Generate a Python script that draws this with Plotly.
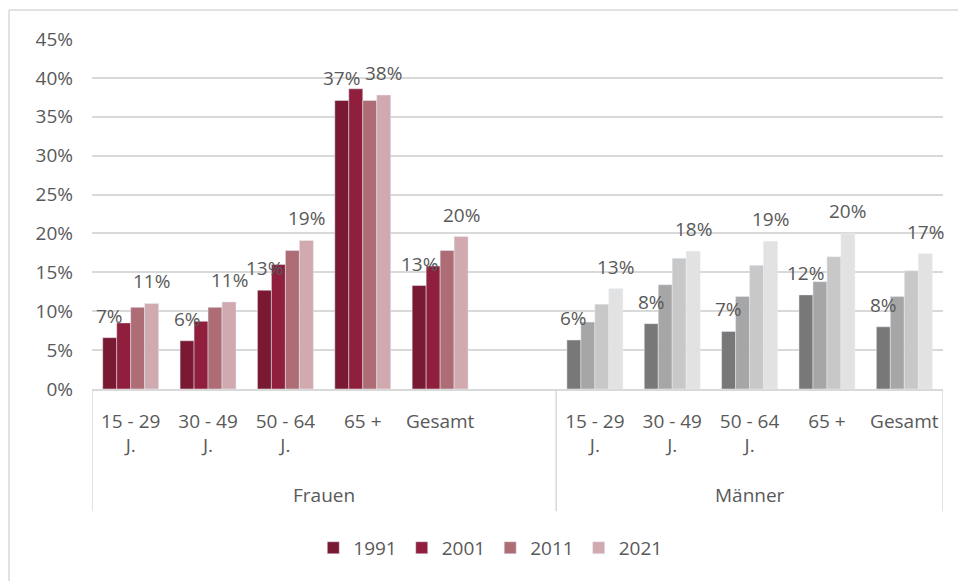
import plotly.graph_objects as go

years = ["1991", "2001", "2011", "2021"]
age_groups = ["15 - 29<br>J.", "30 - 49<br>J.", "50 - 64<br>J.", "65 +", "Gesamt"]
groups = ["Frauen", "Männer"]

frauen = {
    "1991": [0.066, 0.062, 0.127, 0.371, 0.133],
    "2001": [0.085, 0.087, 0.160, 0.386, 0.158],
    "2011": [0.105, 0.105, 0.178, 0.371, 0.178],
    "2021": [0.110, 0.112, 0.191, 0.378, 0.196],
}
maenner = {
    "1991": [0.063, 0.084, 0.074, 0.121, 0.080],
    "2001": [0.086, 0.134, 0.119, 0.138, 0.119],
    "2011": [0.109, 0.168, 0.159, 0.170, 0.152],
    "2021": [0.129, 0.177, 0.190, 0.200, 0.174],
}
labelled_years = ["1991", "2021"]

frauen_colors = {"1991": "#7a1a32", "2001": "#8f1f3c", "2011": "#ae6c74", "2021": "#d1aab0"}
maenner_colors = {"1991": "#787878", "2001": "#a6a6a6", "2011": "#c8c8c8", "2021": "#e2e2e2"}

# category keys: 5 Frauen, one blank spacer, 5 Männer
f_keys = ["F" + str(i) for i in range(len(age_groups))]
m_keys = ["M" + str(i) for i in range(len(age_groups))]
all_keys = f_keys + ["blank"] + m_keys
tick_text = age_groups + [""] + age_groups

FONT = "Open Sans"
TXT = "#595959"
GRID = "#d9d9d9"
bargap = 0.277

fig = go.Figure()
for y in years:
    fig.add_trace(go.Bar(x=f_keys, y=frauen[y], name=y, marker_color=frauen_colors[y],
                         offsetgroup=y, legendgroup=y, hoverinfo="y"))
for y in years:
    fig.add_trace(go.Bar(x=m_keys, y=maenner[y], name=y, marker_color=maenner_colors[y],
                         offsetgroup=y, legendgroup=y, showlegend=False, hoverinfo="y"))

annotations = []
gw = 1 - bargap
for k, y in enumerate(years):
    if y not in labelled_years:
        continue
    off = (k - 1.5) * gw / len(years)
    for series in (frauen, maenner):
        keys = f_keys if series is frauen else m_keys
        for key, v in zip(keys, series[y]):
            annotations.append(dict(
                x=all_keys.index(key) + off, y=v, xref="x", yref="y",
                text=f"{round(v * 100)}%", showarrow=False, yanchor="middle",
                yshift=22, font=dict(family=FONT, size=19, color=TXT)))

# group labels
annotations.append(dict(x=(0 + 5) / 2, y=-0.303, xref="x", yref="paper", text=groups[0],
                        showarrow=False, yanchor="middle",
                        font=dict(family=FONT, size=19, color=TXT)))
annotations.append(dict(x=(6 + 10) / 2, y=-0.303, xref="x", yref="paper", text=groups[1],
                        showarrow=False, yanchor="middle",
                        font=dict(family=FONT, size=19, color=TXT)))

shapes = []
for xb in (-0.5, 5.5, 10.5):
    shapes.append(dict(type="line", xref="x", yref="paper", x0=xb, x1=xb, y0=0, y1=-0.349,
                       line=dict(color=GRID, width=1.5)))
# outer chart border (top and left visible)
shapes.append(dict(type="line", xref="paper", yref="paper", x0=-0.0975, x1=1.2, y0=1.083, y1=1.083,
                   line=dict(color=GRID, width=1.5)))
shapes.append(dict(type="line", xref="paper", yref="paper", x0=-0.0975, x1=-0.0975, y0=1.083, y1=-1.0,
                   line=dict(color=GRID, width=1.5)))

fig.update_layout(
    width=958, height=581,
    margin=dict(l=92, r=15, t=39, b=192),
    paper_bgcolor="white", plot_bgcolor="white",
    barmode="group", bargap=bargap, bargroupgap=0,
    font=dict(family=FONT, size=19, color=TXT),
    showlegend=True,
    legend=dict(orientation="h", x=0.468, xanchor="center", y=-0.454, yanchor="middle",
                font=dict(family=FONT, size=19, color=TXT), traceorder="normal"),
    annotations=annotations,
    shapes=shapes,
)
fig.update_xaxes(type="category", categoryorder="array", categoryarray=all_keys,
                 tickvals=all_keys, ticktext=tick_text, range=[-0.5, 10.5],
                 showline=True, linecolor=GRID, linewidth=1.5, showgrid=False,
                 ticks="", ticklabelstandoff=14, tickfont=dict(family=FONT, size=19, color=TXT))
fig.update_yaxes(range=[0, 0.45], dtick=0.05, tickformat=".0%", showgrid=True, gridcolor=GRID,
                 gridwidth=1.5, zeroline=False, showline=False, ticks="", ticklabelstandoff=18,
                 tickfont=dict(family=FONT, size=19, color=TXT))

fig.write_html("out.html", post_script="document.body.style.margin='0';",
               config={"displayModeBar": False})
